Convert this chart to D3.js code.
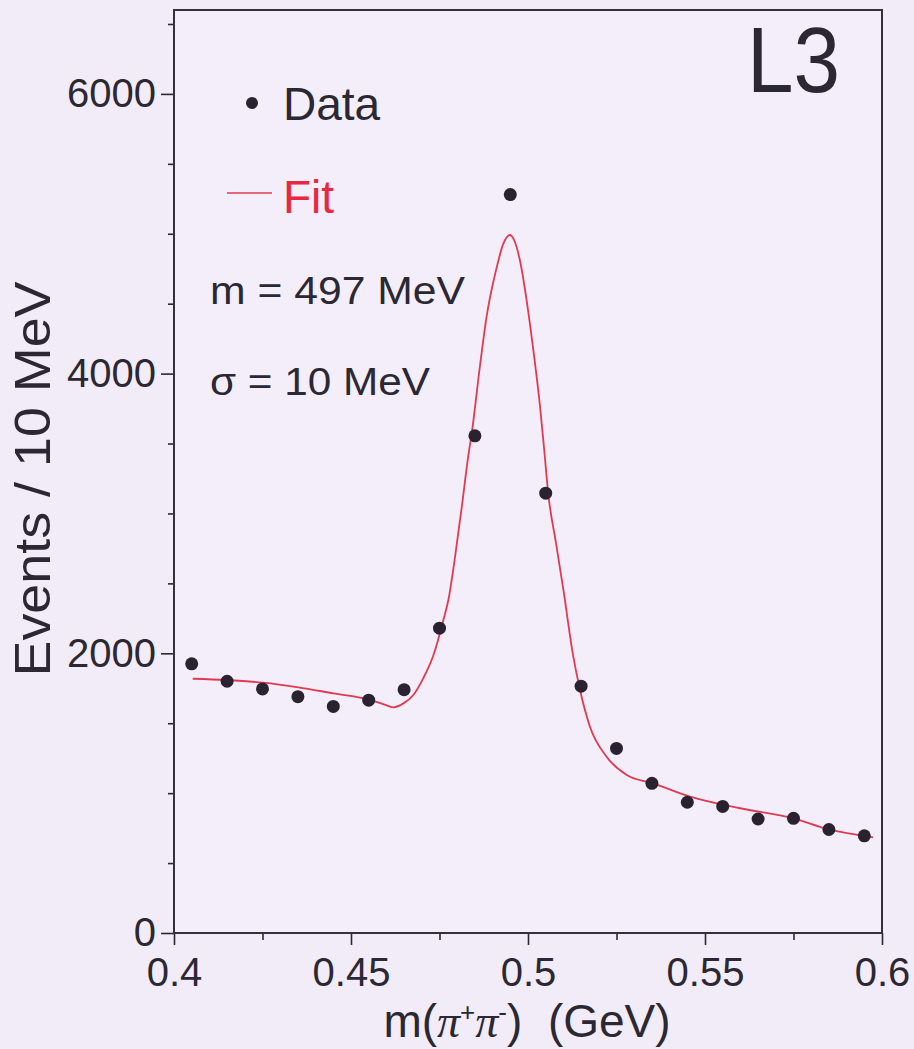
<!DOCTYPE html>
<html>
<head>
<meta charset="utf-8">
<script src="https://cdn.jsdelivr.net/npm/d3@7"></script>
<style>
  html, body { margin: 0; padding: 0; background: #f2ecf8; }
  svg { display: block; }
  text { font-family: "Liberation Sans", Arial, Helvetica, sans-serif; fill: #2b2733; }
</style>
</head>
<body>
<svg id="chart" width="914" height="1049"></svg>
<script>
// K0s -> pi+ pi- invariant mass, events per 10 MeV bin
const binCenters = [0.405, 0.415, 0.425, 0.435, 0.445, 0.455, 0.465, 0.475, 0.485, 0.495,
                    0.505, 0.515, 0.525, 0.535, 0.545, 0.555, 0.565, 0.575, 0.585, 0.595];
const binEvents  = [1925, 1800, 1745, 1690, 1620, 1665, 1740, 2180, 3555, 5280,
                    3145, 1765, 1320, 1070, 935, 905, 815, 820, 740, 695];

// Fitted curve (Gaussian peak on a falling background), sampled
const fitMass = [0.4053, 0.4149, 0.4252, 0.4351, 0.4450, 0.4549, 0.4591, 0.4620, 0.4648, 0.4676,
                 0.4704, 0.4733, 0.4761, 0.4775, 0.4794, 0.4813, 0.4831, 0.4841, 0.4864, 0.4883,
                 0.4912, 0.4929, 0.4949, 0.4963, 0.4977, 0.4996, 0.5015, 0.5034, 0.5045, 0.5057,
                 0.5079, 0.5100, 0.5128, 0.5147, 0.5175, 0.5222, 0.5279, 0.5354, 0.5458, 0.5599,
                 0.5749, 0.5848, 0.5975];
const fitEvents = [1818, 1809, 1790, 1757, 1714, 1671, 1637, 1614, 1642, 1702,
                   1821, 1988, 2238, 2381, 2691, 3048, 3406, 3573, 4049, 4407,
                   4764, 4920, 4991, 4941, 4812, 4526, 4169, 3763, 3475, 3146,
                   2789, 2453, 1976, 1738, 1475, 1261, 1130, 1070, 975, 892,
                   820, 742, 684];

const xDomain = [0.4, 0.6];
const yDomain = [0, 6600];
const xMajorTicks = [0.4, 0.45, 0.5, 0.55, 0.6];
const xMinorTicks = [0.425, 0.475, 0.525, 0.575];
const yMajorTicks = [0, 2000, 4000, 6000];
const yMinorTicks = [500, 1000, 1500, 2500, 3000, 3500, 4500, 5000, 5500, 6500];

const svg = d3.select("#chart");
const plot = { left: 174, right: 882, top: 10, bottom: 933 };

const x = d3.scaleLinear().domain(xDomain).range([plot.left, plot.right]);
const y = d3.scaleLinear().domain(yDomain).range([plot.bottom, plot.top]);

const ink = "#2b2733";
const red = "#e03a52";

// plot area
svg.append("rect")
  .attr("x", plot.left).attr("y", plot.top)
  .attr("width", plot.right - plot.left).attr("height", plot.bottom - plot.top)
  .attr("fill", "#f4eefb");

// axes
function styleAxis(g) {
  g.select(".domain").remove();
  g.selectAll("line").attr("stroke", ink).attr("stroke-width", 1.6);
  g.selectAll("text").style("font-size", "40px").attr("fill", ink);
}

svg.append("g")
  .attr("transform", `translate(0,${plot.bottom})`)
  .call(d3.axisBottom(x).tickValues(xMinorTicks).tickSize(7).tickFormat(""))
  .call(styleAxis);
svg.append("g")
  .attr("transform", `translate(0,${plot.bottom})`)
  .call(d3.axisBottom(x).tickValues(xMajorTicks).tickSize(12).tickPadding(13)
        .tickFormat(d => String(+d.toFixed(3))))
  .call(styleAxis);

svg.append("g")
  .attr("transform", `translate(${plot.left},0)`)
  .call(d3.axisLeft(y).tickValues(yMinorTicks).tickSize(6).tickFormat(""))
  .call(styleAxis);
svg.append("g")
  .attr("transform", `translate(${plot.left},0)`)
  .call(d3.axisLeft(y).tickValues(yMajorTicks).tickSize(13).tickPadding(5).tickFormat(d3.format("d")))
  .call(styleAxis);

// frame
svg.append("rect")
  .attr("x", plot.left).attr("y", plot.top)
  .attr("width", plot.right - plot.left).attr("height", plot.bottom - plot.top)
  .attr("fill", "none").attr("stroke", "#35303c").attr("stroke-width", 2);

// fit curve
const fitPoints = fitMass.map((m, i) => [m, fitEvents[i]]);
svg.append("path")
  .datum(fitPoints)
  .attr("fill", "none")
  .attr("stroke", red)
  .attr("stroke-width", 1.8)
  .attr("d", d3.line().x(d => x(d[0])).y(d => y(d[1])).curve(d3.curveMonotoneX));

// data points
svg.append("g").selectAll("circle")
  .data(binCenters.map((m, i) => [m, binEvents[i]]))
  .join("circle")
  .attr("cx", d => x(d[0]))
  .attr("cy", d => y(d[1]))
  .attr("r", 6.5)
  .attr("fill", "#2a2230");

// legend
svg.append("circle").attr("cx", 252).attr("cy", 103).attr("r", 6).attr("fill", "#2a2230");
svg.append("text").attr("x", 283).attr("y", 120).style("font-size", "46px").text("Data");
svg.append("line").attr("x1", 227).attr("x2", 272).attr("y1", 193).attr("y2", 193)
  .attr("stroke", red).attr("stroke-width", 1.6);
svg.append("text").attr("x", 283).attr("y", 213).style("font-size", "46px")
  .style("fill", "#e8283e").text("Fit");

// fit parameters
svg.append("text").attr("x", 210).attr("y", 304).style("font-size", "38px")
  .attr("textLength", 255).attr("lengthAdjust", "spacingAndGlyphs").text("m = 497 MeV");
svg.append("text").attr("x", 210).attr("y", 395).style("font-size", "38px")
  .attr("textLength", 220).attr("lengthAdjust", "spacingAndGlyphs").text("σ = 10 MeV");

// experiment label
svg.append("text").attr("x", 747).attr("y", 92).style("font-size", "92px")
  .attr("textLength", 93).attr("lengthAdjust", "spacingAndGlyphs").text("L3");

// axis titles
const xt = svg.append("text")
  .attr("x", 527).attr("y", 1037)
  .attr("text-anchor", "middle")
  .style("font-size", "46px");
xt.append("tspan").text("m(");
xt.append("tspan").style("font-family", "'Liberation Serif', serif").style("font-style", "italic").text("π");
xt.append("tspan").attr("dy", -16).style("font-size", "26px").text("+");
xt.append("tspan").attr("dy", 16).style("font-family", "'Liberation Serif', serif").style("font-style", "italic").text("π");
xt.append("tspan").attr("dy", -16).style("font-size", "26px").text("-");
xt.append("tspan").attr("dy", 16).text(")\u00a0\u00a0(GeV)");

svg.append("text")
  .attr("transform", "translate(50,479) rotate(-90)")
  .attr("text-anchor", "middle")
  .style("font-size", "50px")
  .attr("textLength", 395).attr("lengthAdjust", "spacingAndGlyphs")
  .text("Events / 10 MeV");
</script>
</body>
</html>
